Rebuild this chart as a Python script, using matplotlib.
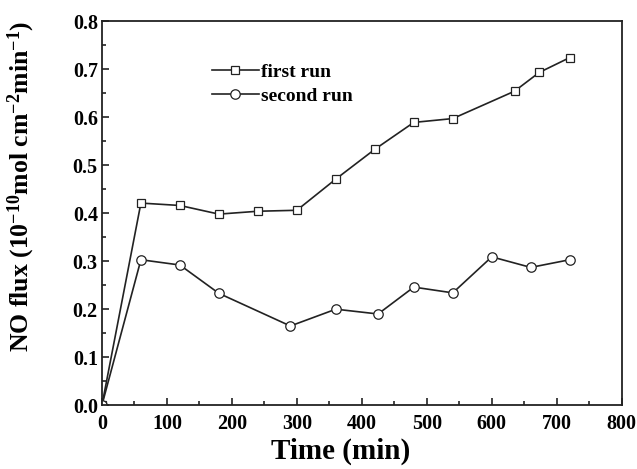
import matplotlib
matplotlib.use("Agg")
import matplotlib.pyplot as plt
from matplotlib.ticker import MultipleLocator

# data
first_time = [0, 60, 120, 180, 240, 300, 360, 420, 480, 540, 635, 673, 720]
first_flux = [0.0, 0.421, 0.416, 0.398, 0.404, 0.406, 0.471, 0.533, 0.589, 0.597, 0.654, 0.693, 0.724]
second_time = [0, 60, 120, 180, 290, 360, 425, 480, 540, 600, 660, 720]
second_flux = [0.0, 0.303, 0.292, 0.233, 0.165, 0.200, 0.190, 0.246, 0.234, 0.309, 0.287, 0.303]

plt.rcParams['font.family'] = ['Liberation Serif', 'DejaVu Serif']
plt.rcParams['font.weight'] = 'bold'
plt.rcParams['mathtext.fontset'] = 'custom'
plt.rcParams['mathtext.rm'] = 'Liberation Serif:bold'
plt.rcParams['mathtext.default'] = 'rm'

fig = plt.figure(figsize=(6.37, 4.69), dpi=100)
ax = fig.add_axes([0.160, 0.136, 0.816, 0.819])

col = '#222222'
ax.plot(first_time, first_flux, color=col, lw=1.2, marker='s', ms=5.8,
        mfc='white', mec=col, mew=0.9, label='first run')
ax.plot(second_time, second_flux, color=col, lw=1.2, marker='o', ms=6.8,
        mfc='white', mec=col, mew=0.9, label='second run')

ax.set_xlim(0, 800)
ax.set_ylim(0, 0.8)
ax.xaxis.set_major_locator(MultipleLocator(100))
ax.xaxis.set_minor_locator(MultipleLocator(50))
ax.yaxis.set_major_locator(MultipleLocator(0.1))
ax.yaxis.set_minor_locator(MultipleLocator(0.05))
ax.yaxis.set_major_formatter(plt.FormatStrFormatter('%.1f'))
ax.tick_params(which='both', direction='in', top=False, right=False, labelsize=14.5, width=1.2, color=col)
ax.tick_params(which='major', length=5)
ax.tick_params(which='minor', length=3)
ax.tick_params(axis='x', pad=6)
ax.tick_params(axis='y', pad=3)
for s in ax.spines.values():
    s.set_linewidth(1.3)
    s.set_color(col)

ax.set_xlabel('Time (min)', fontsize=21, fontweight='bold')
ax.xaxis.set_label_coords(0.46, -0.085)
ax.set_ylabel(r'NO flux (10$^{-10}$mol cm$^{-2}$min$^{-1}$)', fontsize=18.5,
              fontweight='bold')
ax.yaxis.set_label_coords(-0.125, 0.57)

ax.legend(loc='upper left', bbox_to_anchor=(0.178, 0.935), frameon=False,
          prop={'size': 14, 'weight': 'bold'}, handlelength=2.4,
          handletextpad=0.1, labelspacing=0.3)

fig.savefig('out.png', dpi=100)
